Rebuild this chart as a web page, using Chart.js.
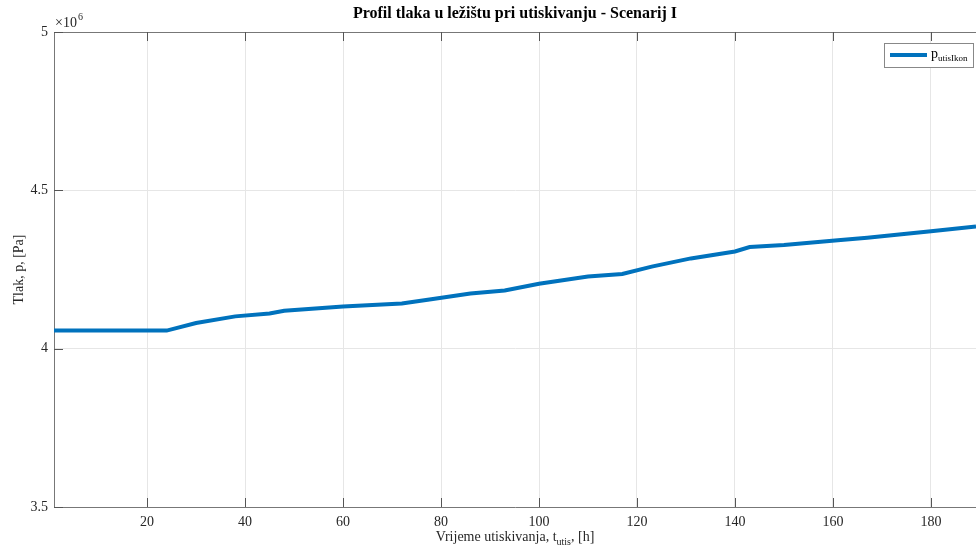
<!DOCTYPE html>
<html lang="hr">
<head>
    <meta charset="UTF-8">
    <title>Profil tlaka</title>
    <style>
        body { margin: 0; background: #fff; }
        #box { width: 976px; height: 550px; }
    </style>
</head>
<body>
    <div id="box">
        <canvas id="tlakChart"></canvas>
    </div>
<script src="https://cdn.jsdelivr.net/npm/chart.js"></script>
<script>
    // vrijeme utiskivanja [h] i tlak u ležištu [Pa] (očitano s grafa)
    let hours = [1, 24, 30, 38, 45, 48, 60, 72, 78, 86, 93, 100, 110, 117, 123, 131, 140, 143, 150, 161, 167, 174, 180, 189.2];
    let pressure = [4.057e6, 4.057e6, 4.081e6, 4.102e6, 4.111e6, 4.120e6, 4.133e6, 4.143e6, 4.156e6, 4.174e6, 4.184e6, 4.205e6,
        4.228e6, 4.236e6, 4.259e6, 4.285e6, 4.307e6, 4.321e6, 4.327e6, 4.342e6, 4.350e6, 4.361e6, 4.371e6, 4.386e6];
    let xTicks = [20, 40, 60, 80, 100, 120, 140, 160, 180];
    let yTicks = [3.5e6, 4e6, 4.5e6, 5e6];

    const SERIF = "'Liberation Serif', 'Times New Roman', serif";
    const AXIS = '#777';

    // naslov, oznake osi, legenda i sitne crtice (kao u MATLAB-u)
    const extras = {
        id: 'extras',
        afterDraw(chart) {
            const ctx = chart.ctx;
            const a = chart.chartArea;
            const xs = chart.scales.x, ys = chart.scales.y;
            ctx.save();

            // gornji rub
            ctx.strokeStyle = AXIS;
            ctx.lineWidth = 1;
            ctx.beginPath();
            ctx.moveTo(a.left, a.top + 0.5);
            ctx.lineTo(a.right, a.top + 0.5);
            ctx.stroke();

            // crtice prema unutra
            ctx.strokeStyle = '#555';
            xTicks.forEach(v => {
                const px = Math.round(xs.getPixelForValue(v)) + 0.5;
                ctx.beginPath();
                ctx.moveTo(px, a.bottom); ctx.lineTo(px, a.bottom - 9);
                ctx.moveTo(px, a.top); ctx.lineTo(px, a.top + 9);
                ctx.stroke();
            });
            yTicks.forEach(v => {
                const py = Math.round(ys.getPixelForValue(v)) + 0.5;
                ctx.beginPath();
                ctx.moveTo(a.left, py); ctx.lineTo(a.left + 9, py);
                ctx.stroke();
            });

            ctx.fillStyle = '#000';
            ctx.font = 'bold 16px ' + SERIF;
            ctx.textAlign = 'center';
            ctx.textBaseline = 'middle';
            ctx.fillText('Profil tlaka u ležištu pri utiskivanju - Scenarij I', (a.left + a.right) / 2, 14);

            ctx.fillStyle = '#262626';
            // x10^6
            ctx.textAlign = 'left';
            ctx.textBaseline = 'alphabetic';
            ctx.font = '14px ' + SERIF;
            ctx.fillText('\u00d710', 55, 27);
            const w10 = ctx.measureText('\u00d710').width;
            ctx.font = '10px ' + SERIF;
            ctx.fillText('6', 55 + w10 + 1, 20);

            // naziv x osi sa subskriptom
            const cx = (a.left + a.right) / 2;
            const base = 541;
            ctx.font = '14px ' + SERIF;
            const p1 = 'Vrijeme utiskivanja, t', p3 = ', [h]';
            const w1 = ctx.measureText(p1).width, w3 = ctx.measureText(p3).width;
            ctx.font = '10px ' + SERIF;
            const w2 = ctx.measureText('utis').width;
            let sx = cx - (w1 + w2 + w3) / 2;
            ctx.font = '14px ' + SERIF;
            ctx.fillText(p1, sx, base);
            ctx.font = '10px ' + SERIF;
            ctx.fillText('utis', sx + w1, base + 4);
            ctx.font = '14px ' + SERIF;
            ctx.fillText(p3, sx + w1 + w2, base);

            // naziv y osi
            ctx.save();
            ctx.translate(23, (a.top + a.bottom) / 2);
            ctx.rotate(-Math.PI / 2);
            ctx.textAlign = 'center';
            ctx.fillText('Tlak, p, [Pa]', 0, 0);
            ctx.restore();

            // legenda
            const lx = 884, ly = 43, lw = 89, lh = 24;
            ctx.fillStyle = '#fff';
            ctx.fillRect(lx, ly, lw, lh);
            ctx.strokeStyle = '#888';
            ctx.lineWidth = 1;
            ctx.strokeRect(lx + 0.5, ly + 0.5, lw, lh);
            ctx.strokeStyle = '#0072BD';
            ctx.lineWidth = 4;
            ctx.beginPath();
            ctx.moveTo(lx + 6, ly + 12);
            ctx.lineTo(lx + 43, ly + 12);
            ctx.stroke();
            ctx.fillStyle = '#000';
            ctx.textAlign = 'left';
            ctx.font = '14px ' + SERIF;
            ctx.fillText('p', lx + 47, ly + 15);
            ctx.font = '9px ' + SERIF;
            ctx.fillText('utisIkon', lx + 54, ly + 18);

            ctx.restore();
        }
    };

    function makeChart() {
        const ctx = document.getElementById('tlakChart');
        new Chart(ctx, {
            type: 'line',
            data: {
                datasets: [{
                    label: 'p_utisIkon',
                    data: hours.map((h, i) => ({ x: h, y: pressure[i] })),
                    borderColor: '#0072BD',
                    borderWidth: 4,
                    pointRadius: 0,
                    tension: 0,
                    fill: false
                }]
            },
            options: {
                responsive: true,
                maintainAspectRatio: false,
                animation: false,
                layout: { padding: { top: 32, right: 0, left: 0, bottom: 0 } },
                plugins: {
                    legend: { display: false },
                    tooltip: { enabled: false }
                },
                scales: {
                    x: {
                        type: 'linear',
                        min: 1,
                        max: 189.2,
                        afterBuildTicks: s => { s.ticks = xTicks.map(v => ({ value: v })); },
                        afterFit: s => { s.height = 43; },
                        grid: { color: '#e6e6e6', drawTicks: false },
                        border: { display: true, color: AXIS },
                        ticks: {
                            padding: 7,
                            color: '#262626',
                            font: { family: SERIF, size: 14 }
                        }
                    },
                    y: {
                        min: 3.5e6,
                        max: 5e6,
                        afterBuildTicks: s => { s.ticks = yTicks.map(v => ({ value: v })); },
                        afterFit: s => { s.width = 54; },
                        grid: { color: '#e6e6e6', drawTicks: false },
                        border: { display: true, color: AXIS },
                        ticks: {
                            padding: 6,
                            color: '#262626',
                            font: { family: SERIF, size: 14 },
                            callback: v => String(v / 1e6)
                        }
                    }
                }
            },
            plugins: [extras]
        });
    }
    window.onload = makeChart;
</script>
</body>
</html>
